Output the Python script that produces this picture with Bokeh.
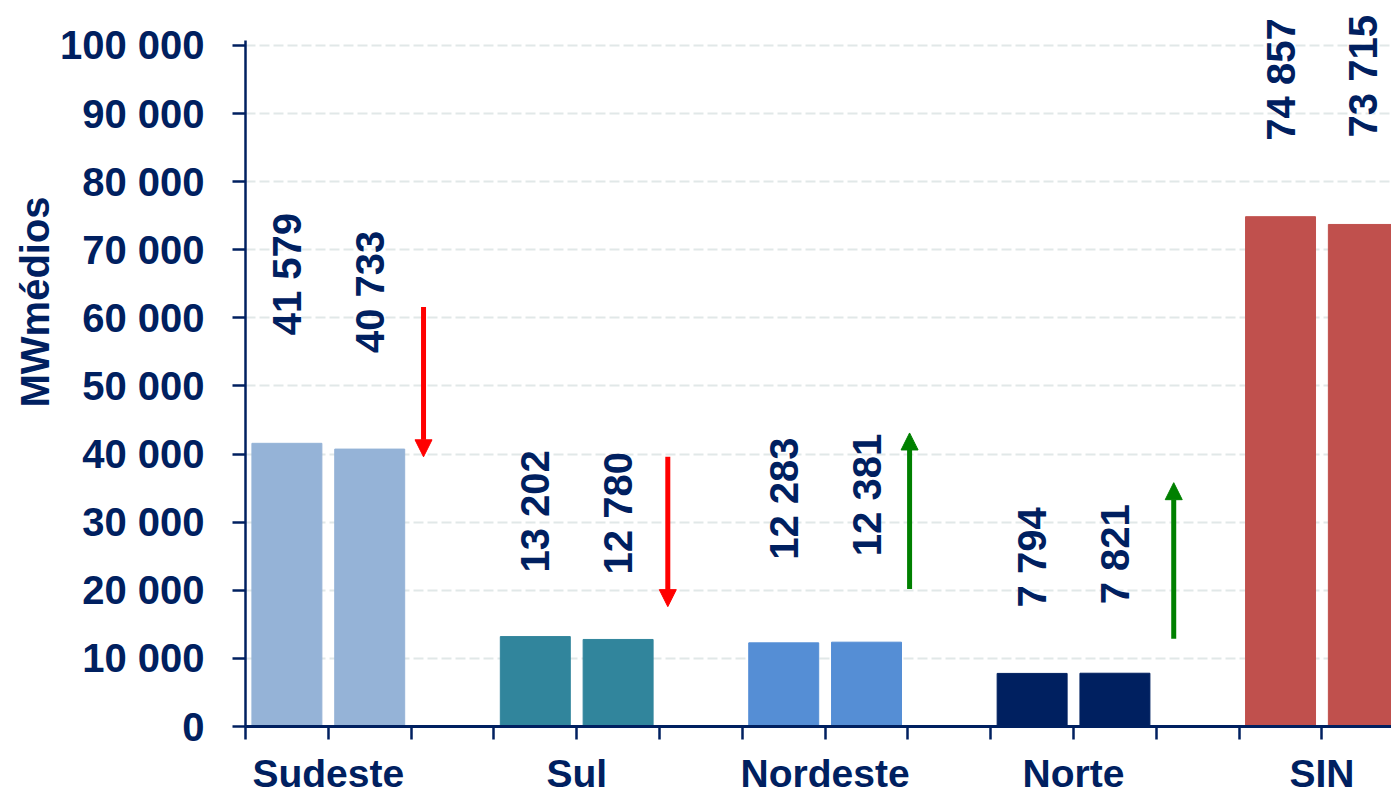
import math
from bokeh.plotting import figure
from bokeh.models import (ColumnDataSource, FixedTicker, LabelSet, Arrow,
                          NormalHead, Range1d, Title)
from bokeh.embed import file_html
from bokeh.resources import INLINE
from bokeh.core.properties import value

# ---------------- data ----------------
regions = ["Sudeste", "Sul", "Nordeste", "Norte", "SIN"]
values_a = [41579, 13202, 12283, 7794, 74857]
values_b = [40733, 12780, 12381, 7821, 73715]
y_ticks = [0, 10000, 20000, 30000, 40000, 50000, 60000, 70000, 80000, 90000, 100000]
y_tick_labels = ["0", "10 000", "20 000", "30 000", "40 000", "50 000",
                 "60 000", "70 000", "80 000", "90 000", "100 000"]
y_title = "MWmédios"

# ---------------- styles / layout ----------------
bar_colors = ["#95B3D7", "#31859C", "#558ED5", "#002060", "#C0504D"]
navy = "#002060"
font = "Liberation Sans"
# pixel gap between bar top and start of the (vertical) value label
gap_a = [108, 64, 83, 66, 76]
gap_b = [96, 65, 86, 69, 87]
# trend arrows (annotation, in axis units)
arrow_x = [2.15, 5.10, 8.02, 11.21]
arrow_from = [61600, 39600, 20200, 12900]
arrow_to = [39600, 17600, 43100, 35800]
arrow_colors = ["#FF0000", "#FF0000", "#008000", "#008000"]


def fmt(v):
    return f"{v:,}".replace(",", " ")


xs, tops, cols, texts, gaps = [], [], [], [], []
for i, r in enumerate(regions):
    xs += [3 * i + 0.5, 3 * i + 1.5]
    tops += [values_a[i], values_b[i]]
    cols += [bar_colors[i], bar_colors[i]]
    texts += [fmt(values_a[i]), fmt(values_b[i])]
    gaps += [gap_a[i], gap_b[i]]

src = ColumnDataSource(dict(x=xs, top=tops, color=cols, text=texts, gap=gaps))

p = figure(width=1391, height=797, x_range=Range1d(0, 13.84), y_range=Range1d(0, 106598),
           output_backend="svg", toolbar_location=None,
           min_border_left=245, min_border_right=0, min_border_top=0, min_border_bottom=70)
p.outline_line_color = None
p.background_fill_color = "white"
p.border_fill_color = "white"

p.vbar(x="x", top="top", bottom=0, width=0.845, color="color", source=src)

# value labels
p.add_layout(LabelSet(x="x", y="top", text="text", y_offset="gap", angle=math.pi / 2,
                      text_align="left", text_baseline="middle", source=src,
                      text_font=value(font), text_font_style="bold",
                      text_font_size="40px", text_color=navy))

# arrows
for xa, y0, y1, c in zip(arrow_x, arrow_from, arrow_to, arrow_colors):
    p.add_layout(Arrow(x_start=xa, y_start=y0, x_end=xa, y_end=y1, line_color=c,
                       line_width=5,
                       end=NormalHead(size=17, fill_color=c, line_color=c, line_width=1)))

# y title
p.add_layout(Title(text=y_title, align="left", offset=319,
                   text_font=font, text_font_style="bold", text_font_size="40px",
                   text_color=navy, standoff=0), "left")

# y axis
ya = p.yaxis[0]
ya.ticker = FixedTicker(ticks=y_ticks)
ya.major_label_overrides = {t: l for t, l in zip(y_ticks, y_tick_labels)}
ya.bounds = (0, 100700)
ya.axis_line_color = navy
ya.axis_line_width = 2.5
ya.major_tick_line_color = navy
ya.major_tick_line_width = 2.5
ya.major_tick_out = 13
ya.major_tick_in = 0
ya.minor_tick_line_color = None
ya.major_label_standoff = 28
ya.major_label_text_font = font
ya.major_label_text_font_style = "bold"
ya.major_label_text_font_size = "40px"
ya.major_label_text_color = navy

# x axis (category labels at the centre of each pair of bars)
x_ticks = list(range(0, 15))
x_labels = {t: "" for t in x_ticks}
for i, r in enumerate(regions):
    x_labels[3 * i + 1] = r
xa_ = p.xaxis[0]
xa_.ticker = FixedTicker(ticks=x_ticks)
xa_.major_label_overrides = x_labels
xa_.axis_line_color = navy
xa_.axis_line_width = 3
xa_.major_tick_line_color = navy
xa_.major_tick_line_width = 2.5
xa_.major_tick_out = 13
xa_.major_tick_in = 0
xa_.minor_tick_line_color = None
xa_.major_label_standoff = 12
xa_.major_label_text_font = font
xa_.major_label_text_font_style = "bold"
xa_.major_label_text_font_size = "39px"
xa_.major_label_text_color = navy

p.xgrid.visible = False
p.ygrid.ticker = FixedTicker(ticks=y_ticks[1:])
p.ygrid.grid_line_color = "#E1E8E8"
p.ygrid.grid_line_width = 2
p.ygrid.grid_line_dash = "10 4"

open("out.html", "w").write(file_html(p, INLINE))
